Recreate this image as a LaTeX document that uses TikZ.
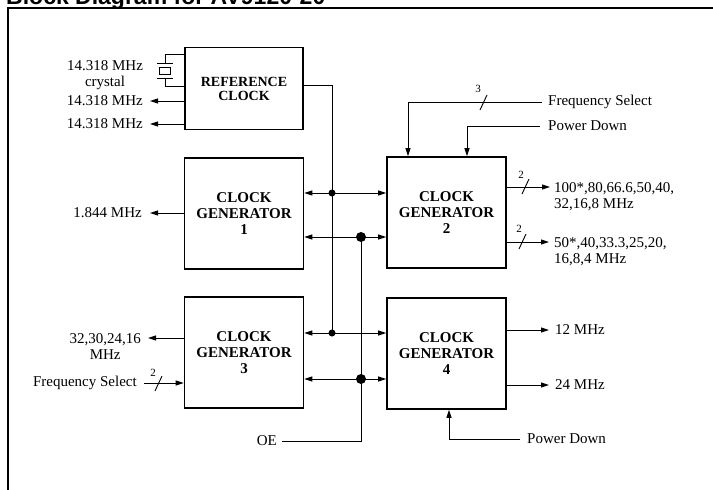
\documentclass[tikz,border=0pt]{standalone}
\usepackage{fontspec}
\setmainfont{Liberation Serif}
\newfontfamily\titlefont{Liberation Sans}
\usetikzlibrary{arrows.meta,calc}
\begin{document}
\begin{tikzpicture}[x=1pt,y=-1pt,
  box/.style={draw,line width=1.7pt,minimum width=119pt,minimum height=111pt,inner sep=0pt,
    align=center,font=\bfseries\fontsize{15}{16}\selectfont},
  lab/.style={inner sep=0pt,font=\fontsize{15}{16.5}\selectfont},
  num/.style={inner sep=0pt,font=\fontsize{11}{11}\selectfont},
  wire/.style={line width=0.9pt},
  arr/.style={wire,-{Triangle[length=8pt,width=5pt]}},
  barr/.style={wire,{Triangle[length=8pt,width=5pt]}-{Triangle[length=8pt,width=5pt]}},
  frame/.style={line width=2.2pt},
  sdot/.style={circle,fill,inner sep=0pt,minimum size=7pt},
  bdot/.style={circle,fill,inner sep=0pt,minimum size=10pt}]
\useasboundingbox (0,0) rectangle (713,490);

% title (cut by the top edge, as in the reference) and frame
\node[anchor=base west,inner sep=0pt,font=\titlefont\bfseries\fontsize{23}{23}\selectfont] (title) at (6,4) {Block Diagram for AV9120-20};
\draw[frame] (8,490) -- (8,8) -- (713,8);

% blocks
\node[box,minimum width=118pt,minimum height=82pt,font=\bfseries\fontsize{14}{14}\selectfont] (ref) at (244,88.5) {REFERENCE\\CLOCK};
\node[box] (g1) at (244,213.5) {CLOCK\\GENERATOR\\1};
\node[box] (g2) at (446.5,212.5) {CLOCK\\GENERATOR\\2};
\node[box] (g3) at (244,352.5) {CLOCK\\GENERATOR\\3};
\node[box] (g4) at (446.5,353.5) {CLOCK\\GENERATOR\\4};

% crystal
\node[lab,align=center,anchor=north] (xtal) at (105,60) {14.318 MHz\\crystal};
\coordinate (xa) at (165,54);
\coordinate (xb) at (165,86);
\draw[wire] (ref.west |- xa) -- (xa) -- (165,63);
\draw[wire] (157,63) -- (173,63);
\draw[wire] (159.5,67.5) rectangle (170.5,74.5);
\draw[wire] (157,78) -- (173,78);
\draw[wire] (165,78) -- (xb) -- (ref.west |- xb);

% reference clock outputs
\node[lab,anchor=east] (r1) at (143,101) {14.318 MHz};
\node[lab,anchor=east] (r2) at (143,124) {14.318 MHz};
\draw[arr] (ref.west |- r1.east) -- ([xshift=7pt]r1.east);
\draw[arr] (ref.west |- r2.east) -- ([xshift=7pt]r2.east);

% clock generator 1 output
\node[lab,anchor=east] (o1) at (142,213) {1.844 MHz};
\draw[arr] (g1.west |- o1.east) -- ([xshift=8pt]o1.east);

% clock generator 3 output and input
\node[lab,anchor=north east,align=center] (o3) at (141,333) {32,30,24,16\\MHz};
\coordinate (o3t) at (148,338);
\draw[arr] (g3.west |- o3t) -- (o3t);
\node[lab,anchor=east] (fs3) at (137,383) {Frequency Select};
\draw[arr] ([xshift=7pt]fs3.east) -- (g3.west |- fs3.east);
\draw[wire] (155,391) -- (162,376);
\node[num] (n3) at (153,373) {2};

% reference clock distribution line
\coordinate (rc) at (332,85);
\coordinate (d1) at (332,193);
\coordinate (d3) at (332,333);
\draw[wire] (ref.east |- rc) -- (rc) -- (d3);

% buses between generators
\draw[barr] (g1.east |- d1) -- (g2.west |- d1);
\coordinate (e1) at (361,237);
\draw[barr] (g1.east |- e1) -- (g2.west |- e1);
\draw[barr] (g3.east |- d3) -- (g4.west |- d3);
\coordinate (e3) at (361,379);
\draw[barr] (g3.east |- e3) -- (g4.west |- e3);
\node[sdot] (dot1) at (d1) {};
\node[sdot] (dot3) at (d3) {};
\node[bdot] (dot2) at (e1) {};
\node[bdot] (dot4) at (e3) {};

% OE
\node[lab,anchor=east] (oe) at (277,441) {OE};
\draw[wire] (dot2.center) -- (dot2 |- oe.east) -- ([xshift=5pt]oe.east);

% clock generator 2 inputs
\node[lab,anchor=west] (fs2) at (548,102) {Frequency Select};
\draw[arr] ([xshift=-6pt]fs2.west) -| (g2.north -| 408,0);
\draw[wire] (480,110) -- (487,95);
\node[num] (n2) at (478,89) {3};
\node[lab,anchor=west] (pd2) at (548,126) {Power Down};
\draw[arr] ([xshift=-8pt]pd2.west) -| (g2.north -| 467,0);

% clock generator 2 outputs
\node[lab,anchor=north west,align=left] (q1) at (554,182) {100*,80,66.6,50,40,\\32,16,8 MHz};
\node[lab,anchor=north west,align=left] (q2) at (554,237) {50*,40,33.3,25,20,\\16,8,4 MHz};
\coordinate (q1t) at (550,187);
\coordinate (q2t) at (549,242);
\draw[arr] (g2.east |- q1t) -- (q1t);
\draw[arr] (g2.east |- q2t) -- (q2t);
\draw[wire] (522,194) -- (529,179);
\draw[wire] (519,249) -- (526,234);
\node[num] (n21) at (521,175) {2};
\node[num] (n22) at (519,229) {2};

% clock generator 4 outputs and input
\node[lab,anchor=west] (m12) at (555,330) {12 MHz};
\node[lab,anchor=west] (m24) at (555,385) {24 MHz};
\draw[arr] (g4.east |- m12.west) -- ([xshift=-6pt]m12.west);
\draw[arr] (g4.east |- m24.west) -- ([xshift=-6pt]m24.west);
\node[lab,anchor=west] (pd4) at (527,439) {Power Down};
\draw[arr] ([xshift=-7pt]pd4.west) -| (g4.south -| 449,0);
\end{tikzpicture}
\end{document}
